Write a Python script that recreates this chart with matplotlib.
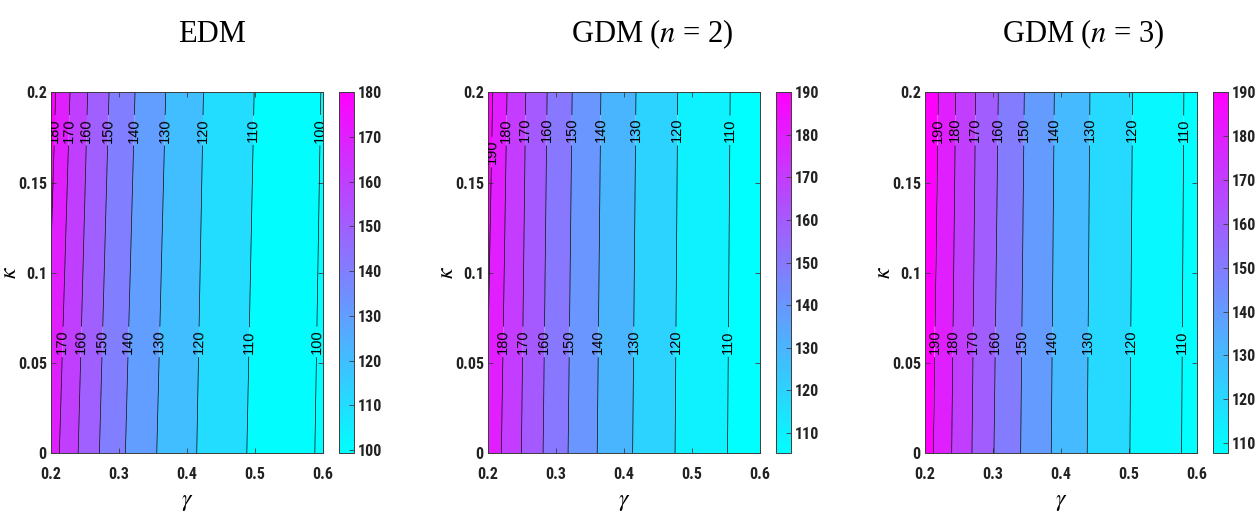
import numpy as np
import matplotlib
matplotlib.use("Agg")
import matplotlib.pyplot as plt
from matplotlib.colors import Normalize
from matplotlib.cm import ScalarMappable
from matplotlib import font_manager

plt.rcParams['font.family'] = ['Liberation Sans', 'DejaVu Sans']
plt.rcParams['mathtext.fontset'] = 'stix'

# ---------------- data ----------------
titles = ['EDM', r'GDM ($n$ = 2)', r'GDM ($n$ = 3)']
kappa_rows = [0.0, 0.2]
gamma_edges = [0.18, 0.62]          # grid extends slightly beyond the axes

edm_levels = [180, 170, 160, 150, 140, 130, 120, 110, 100]
edm_gamma_k0 = [0.191, 0.2123, 0.240, 0.2713, 0.3096, 0.3558, 0.4147, 0.4885, 0.5887]
edm_gamma_k02 = [0.207, 0.228, 0.254, 0.2855, 0.3238, 0.369, 0.4246, 0.4993, 0.5975]
edm_left = [185.0, 193.0]
edm_right = [97.0, 97.8]
edm_clim = [99.26, 180.0]
edm_cticks = [100, 110, 120, 130, 140, 150, 160, 170, 180]

g2_levels = [190, 180, 170, 160, 150, 140, 130, 120, 110]
g2_gamma_k0 = [0.197, 0.2197, 0.2492, 0.2812, 0.318, 0.3609, 0.4131, 0.4756, 0.5529]
g2_gamma_k02 = [0.207, 0.228, 0.2556, 0.2871, 0.324, 0.3663, 0.418, 0.4795, 0.5568]
g2_left = [197.0, 203.0]
g2_right = [101.0, 101.8]
g2_clim = [105.2, 190.0]
g2_cticks = [110, 120, 130, 140, 150, 160, 170, 180, 190]

g3_levels = [190, 180, 170, 160, 150, 140, 130, 120, 110]
g3_gamma_k0 = [0.2123, 0.2393, 0.2692, 0.3016, 0.3409, 0.386, 0.439, 0.5019, 0.578]
g3_gamma_k02 = [0.2196, 0.2452, 0.2746, 0.308, 0.3463, 0.3905, 0.443, 0.5058, 0.5814]
g3_left = [202.0, 205.0]
g3_right = [104.5, 104.9]
g3_clim = [107.7, 190.0]
g3_cticks = [110, 120, 130, 140, 150, 160, 170, 180, 190]

# label rows (kappa) and which levels are labelled there
edm_lab_top = (0.179, [180, 170, 160, 150, 140, 130, 120, 110, 100])
edm_lab_bot = (0.0617, [170, 160, 150, 140, 130, 120, 110, 100])
g2_lab_top = (0.179, [180, 170, 160, 150, 140, 130, 120, 110])
g2_lab_extra = (0.167, [190])
g2_lab_bot = (0.0617, [180, 170, 160, 150, 140, 130, 120, 110])
g3_lab_top = (0.179, g3_levels)
g3_lab_bot = (0.0617, g3_levels)

xticks = [0.2, 0.3, 0.4, 0.5, 0.6]
xticklabels = ['0.2', '0.3', '0.4', '0.5', '0.6']
yticks = [0, 0.05, 0.1, 0.15, 0.2]
yticklabels = ['0', '0.05', '0.1', '0.15', '0.2']

panels = [
    dict(title=titles[0], levels=edm_levels, k0=edm_gamma_k0, k02=edm_gamma_k02,
         left=edm_left, right=edm_right, clim=edm_clim, cticks=edm_cticks,
         labels=[edm_lab_top, edm_lab_bot]),
    dict(title=titles[1], levels=g2_levels, k0=g2_gamma_k0, k02=g2_gamma_k02,
         left=g2_left, right=g2_right, clim=g2_clim, cticks=g2_cticks,
         labels=[g2_lab_top, g2_lab_extra, g2_lab_bot]),
    dict(title=titles[2], levels=g3_levels, k0=g3_gamma_k0, k02=g3_gamma_k02,
         left=g3_left, right=g3_right, clim=g3_clim, cticks=g3_cticks,
         labels=[g3_lab_top, g3_lab_bot]),
]

# ---------------- layout (pixels) ----------------
W, H = 1256, 513
ax_left_px = [51, 488, 925]
ax_w_px = 271.5
cb_left_px = [339, 776, 1213]
cb_w_px = 15
ax_bottom_px = 453.3
ax_top_px = 92.3
title_x_px = [212, 652, 1083]

# pick a condensed sans font if one is installed
avail = {f.name for f in font_manager.fontManager.ttflist}
narrow = [n for n in ['Liberation Sans Narrow', 'Arial Narrow', 'Roboto Condensed',
                      'Open Sans Condensed', 'DejaVu Sans Condensed'] if n in avail]
stretch = 'normal'
if not narrow:
    dv_cond = [f for f in font_manager.fontManager.ttflist
               if f.name == 'DejaVu Sans' and f.stretch in ('condensed', 'semi-condensed')]
    if dv_cond:
        narrow = ['DejaVu Sans']
        stretch = 'condensed'
if narrow:
    tick_font = dict(family=narrow + ['Liberation Sans'], weight='bold', size=11.5, stretch=stretch)
else:
    tick_font = dict(family=['Liberation Sans'], weight='bold', size=10.5)
spine_col = '#3c3c3c'

fig = plt.figure(figsize=(W / 100, H / 100), dpi=100)
cmap = plt.get_cmap('cool')

for i, p in enumerate(panels):
    b = (H - ax_bottom_px) / H
    h = (ax_bottom_px - ax_top_px) / H
    ax = fig.add_axes([ax_left_px[i] / W, b, ax_w_px / W, h])
    cax = fig.add_axes([cb_left_px[i] / W, b, cb_w_px / W, h])

    X = np.array([[gamma_edges[0]] + p['k0'] + [gamma_edges[1]],
                  [gamma_edges[0]] + p['k02'] + [gamma_edges[1]]])
    Y = np.array([[kappa_rows[0]] * X.shape[1], [kappa_rows[1]] * X.shape[1]])
    Z = np.array([[p['left'][0]] + p['levels'] + [p['right'][0]],
                  [p['left'][1]] + p['levels'] + [p['right'][1]]], dtype=float)

    norm = Normalize(vmin=p['clim'][0], vmax=p['clim'][1])
    lv = sorted(p['levels'])
    bounds = [Z.min() - 1] + lv + [Z.max() + 1]
    cols = [cmap(norm(min(max(v, p['clim'][0]), p['clim'][1]))) for v in bounds[:-1]]
    ax.contourf(X, Y, Z, levels=bounds, colors=cols, antialiased=True)
    cs = ax.contour(X, Y, Z, levels=lv, colors='k', linewidths=0.5)

    positions = []
    for kap, labs in p['labels']:
        for lev in labs:
            j = p['levels'].index(lev)
            g = p['k0'][j] + (p['k02'][j] - p['k0'][j]) * kap / 0.2
            positions.append((g, kap))
    ax.clabel(cs, inline=True, fmt='%d', fontsize=10.5, manual=positions, inline_spacing=3)

    ax.set_xlim(0.2, 0.6)
    ax.set_ylim(0, 0.2)
    ax.set_xticks(xticks)
    ax.set_xticklabels(xticklabels, fontdict=tick_font)
    ax.set_yticks(yticks)
    ax.set_yticklabels(yticklabels, fontdict=tick_font)
    ax.tick_params(direction='in', length=3.5, width=0.6, colors=spine_col,
                   top=True, right=True, labelcolor='#222222')
    ax.tick_params(axis='x', pad=10)
    ax.tick_params(axis='y', pad=3)
    for s in ax.spines.values():
        s.set_color(spine_col)
        s.set_linewidth(0.7)
    ax.set_xlabel(r'$\gamma$', fontsize=17)
    ax.xaxis.set_label_coords(0.5, -0.104)
    ax.set_ylabel(r'$\kappa$', fontsize=17)
    ax.yaxis.set_label_coords(-0.112, 0.5)

    sm = ScalarMappable(norm=norm, cmap=cmap)
    cb = fig.colorbar(sm, cax=cax, ticks=p['cticks'])
    cb.outline.set_edgecolor(spine_col)
    cb.outline.set_linewidth(0.7)
    cax.tick_params(direction='in', length=3.5, width=0.6, colors=spine_col,
                    labelcolor='#222222', pad=3)
    cax.set_yticklabels([str(t) for t in p['cticks']], fontdict=tick_font)

    fig.text(title_x_px[i] / W, 1 - 34 / H, p['title'], ha='center', va='center',
             fontsize=22, family='Liberation Serif')

fig.savefig('out.png', dpi=100)
